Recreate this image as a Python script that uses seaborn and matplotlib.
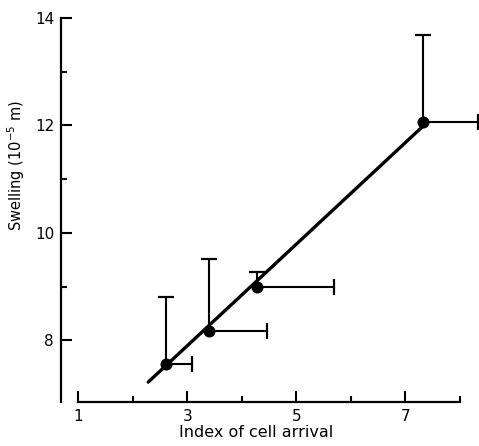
import matplotlib
matplotlib.use("Agg")
import matplotlib.pyplot as plt
from matplotlib.ticker import FixedLocator
import seaborn as sns
import pandas as pd

# Mean index of cell arrival vs. swelling, with one-sided error bars
arrival_index = [2.60, 3.40, 4.28, 7.32]
swelling = [7.55, 8.17, 8.99, 12.06]
arrival_err_upper = [0.48, 1.06, 1.40, 1.02]
swelling_err_upper = [1.26, 1.35, 0.28, 1.63]

# Fitted regression line end points
fit_x = [2.28, 7.38]
fit_y = [7.22, 12.04]

x_major = [1, 3, 5, 7]
x_minor = [2, 4, 6, 8]
y_major = [8, 10, 12, 14]
y_minor = [9, 11, 13]

sns.set_style("ticks")
plt.rcParams["font.family"] = ["DejaVu Sans"]
plt.rcParams["text.color"] = "black"
plt.rcParams["axes.labelcolor"] = "black"
plt.rcParams["xtick.color"] = "black"
plt.rcParams["ytick.color"] = "black"

points = pd.DataFrame({"arrival": arrival_index, "swelling": swelling})
fit = pd.DataFrame({"arrival": fit_x, "swelling": fit_y})

fig = plt.figure(figsize=(4.79, 4.46), dpi=100)
ax = fig.add_axes([0.1274, 0.0987, 0.8783, 0.861])

# One-sided bars: upward for swelling, rightward for arrival index
zeros = [0] * len(arrival_index)
ax.errorbar(arrival_index, swelling,
            xerr=[zeros, arrival_err_upper],
            yerr=[zeros, swelling_err_upper],
            fmt="none", ecolor="black", elinewidth=1.5,
            capsize=0, zorder=2)

# End caps only at the far end of each bar
y_cap_top = [s + e for s, e in zip(swelling, swelling_err_upper)]
x_cap_right = [a + e for a, e in zip(arrival_index, arrival_err_upper)]
ax.plot(arrival_index, y_cap_top, linestyle="none", marker="_",
        markersize=11, markeredgewidth=1.6, color="black", zorder=2)
ax.plot(x_cap_right, swelling, linestyle="none", marker="|",
        markersize=11, markeredgewidth=1.6, color="black", zorder=2)

sns.lineplot(data=fit, x="arrival", y="swelling", color="black",
             linewidth=2.4, ax=ax, zorder=3)
sns.scatterplot(data=points, x="arrival", y="swelling", color="black",
                s=75, edgecolor="black", linewidth=0, ax=ax, zorder=4)

ax.set_xlim(0.68, 8.40)
ax.set_ylim(6.85, 14.0)

ax.xaxis.set_major_locator(FixedLocator(x_major))
ax.xaxis.set_minor_locator(FixedLocator(x_minor))
ax.yaxis.set_major_locator(FixedLocator(y_major))
ax.yaxis.set_minor_locator(FixedLocator(y_minor))

ax.tick_params(axis="both", which="major", direction="in", length=8,
               width=1.5, labelsize=11, color="black", labelcolor="black")
ax.tick_params(axis="both", which="minor", direction="in", length=4,
               width=1.5, color="black")
ax.tick_params(axis="x", which="major", pad=5)
ax.tick_params(axis="y", which="major", pad=5)

for side in ["top", "right"]:
    ax.spines[side].set_visible(False)
for side in ["left", "bottom"]:
    ax.spines[side].set_linewidth(1.6)
    ax.spines[side].set_color("black")
ax.spines["bottom"].set_bounds(1, 8)
ax.spines["left"].set_bounds(6.85, 14)

ax.set_xlabel("Index of cell arrival", fontsize=11.5)
ax.set_ylabel("Swelling (10$^{-5}$ m)", fontsize=10.5)
ax.xaxis.set_label_coords(0.4635, -0.060)
ax.yaxis.set_label_coords(-0.080, 0.617)

fig.savefig("out.png", dpi=100)
